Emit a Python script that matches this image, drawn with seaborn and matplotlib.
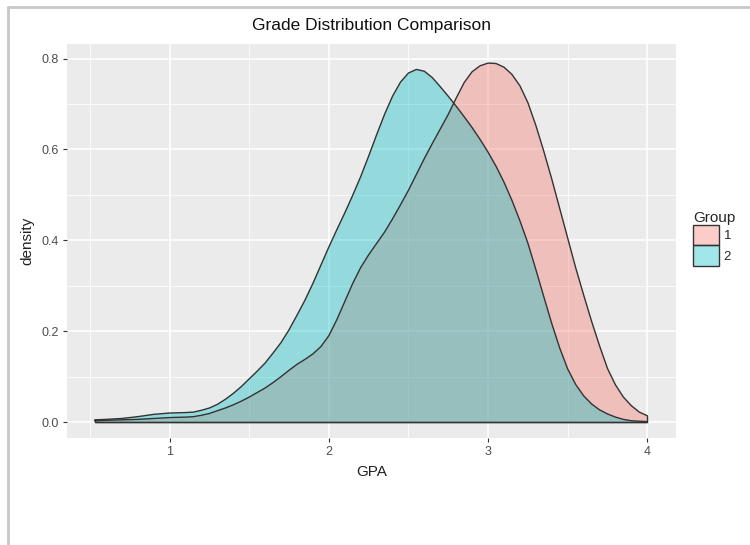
import numpy as np
import pandas as pd
import matplotlib
matplotlib.use("Agg")
import matplotlib.pyplot as plt
import seaborn as sns
from matplotlib.patches import Patch
from matplotlib.lines import Line2D
from matplotlib.colors import to_rgba

# GPA grid and density estimates per group
gpa = [0.53, 0.6, 0.7, 0.8, 0.9, 1.0, 1.1, 1.15, 1.2, 1.25, 1.3, 1.35, 1.4, 1.45,
       1.5, 1.55, 1.6, 1.65, 1.7, 1.75, 1.8, 1.85, 1.9, 1.95,
       2.0, 2.05, 2.1, 2.15, 2.2, 2.25, 2.3, 2.35, 2.4, 2.45,
       2.5, 2.55, 2.6, 2.65, 2.7, 2.75, 2.8, 2.85, 2.9, 2.95,
       3.0, 3.05, 3.1, 3.15, 3.2, 3.25, 3.3, 3.35, 3.4, 3.45,
       3.5, 3.55, 3.6, 3.65, 3.7, 3.75, 3.8, 3.85, 3.9, 3.95, 4.0]

group1 = [0.003, 0.004, 0.005, 0.006, 0.008, 0.010, 0.011, 0.012, 0.015, 0.019, 0.025, 0.031, 0.038, 0.046,
          0.055, 0.065, 0.075, 0.087, 0.100, 0.114, 0.127, 0.138, 0.150, 0.166,
          0.190, 0.225, 0.265, 0.305, 0.340, 0.368, 0.393, 0.418, 0.447, 0.478,
          0.510, 0.545, 0.580, 0.613, 0.645, 0.677, 0.713, 0.747, 0.771, 0.784,
          0.790, 0.789, 0.781, 0.765, 0.740, 0.703, 0.653, 0.596, 0.535, 0.470,
          0.405, 0.340, 0.280, 0.222, 0.168, 0.118, 0.082, 0.055, 0.036, 0.022, 0.014]

group2 = [0.005, 0.006, 0.008, 0.012, 0.017, 0.020, 0.021, 0.022, 0.026, 0.031, 0.039, 0.050, 0.063, 0.078,
          0.095, 0.112, 0.130, 0.152, 0.175, 0.203, 0.235, 0.268, 0.305, 0.345,
          0.385, 0.423, 0.460, 0.499, 0.540, 0.585, 0.632, 0.677, 0.717, 0.748,
          0.768, 0.776, 0.772, 0.758, 0.738, 0.717, 0.695, 0.672, 0.648, 0.622,
          0.594, 0.563, 0.528, 0.488, 0.443, 0.394, 0.336, 0.276, 0.217, 0.163,
          0.117, 0.083, 0.058, 0.040, 0.027, 0.018, 0.011, 0.006, 0.003, 0.002, 0.001]

groups = ["1", "2"]
fills = {"1": "#F8766D", "2": "#00BFC4"}
fill_alpha = 0.37

df = pd.concat([
    pd.DataFrame({"GPA": gpa, "density": group1, "Group": "1"}),
    pd.DataFrame({"GPA": gpa, "density": group2, "Group": "2"}),
], ignore_index=True)

sns.set_theme(style="darkgrid", rc={
    "axes.facecolor": "#EBEBEB",
    "grid.color": "white",
})
plt.rcParams["font.family"] = ["Liberation Sans", "DejaVu Sans"]

fig = plt.figure(figsize=(7.5, 5.45), dpi=100)
fig.patch.set_facecolor("white")
ax = fig.add_axes([0.0893, 0.1963, 0.8120, 0.7230])

edge = "#333333"
for g in groups:
    sub = df[df["Group"] == g]
    ax.fill_between(sub["GPA"], sub["density"], 0, facecolor=fills[g], alpha=fill_alpha,
                    edgecolor="none", zorder=2)
    # baseline and end segments of the density outline
    xs = sub["GPA"].to_numpy()
    ys = sub["density"].to_numpy()
    ax.plot([xs[-1], xs[-1], xs[0], xs[0]], [ys[-1], 0, 0, ys[0]],
            color=edge, lw=1.0, zorder=3, solid_joinstyle="miter")

sns.lineplot(data=df, x="GPA", y="density", hue="Group",
             palette={g: edge for g in groups}, estimator=None, sort=False,
             lw=1.0, legend=False, ax=ax, zorder=3)

ax.set_xlim(0.356, 4.18)
ax.set_ylim(-0.035, 0.832)
ax.set_xticks([1, 2, 3, 4])
ax.set_xticklabels(["1", "2", "3", "4"])
ax.set_yticks([0.0, 0.2, 0.4, 0.6, 0.8])
ax.set_yticklabels(["0.0", "0.2", "0.4", "0.6", "0.8"])
ax.set_xticks([0.5, 1.5, 2.5, 3.5], minor=True)
ax.set_yticks([0.1, 0.3, 0.5, 0.7], minor=True)
ax.grid(which="major", color="white", lw=1.1)
ax.grid(which="minor", color="white", lw=0.55)
ax.set_axisbelow(True)
for s in ax.spines.values():
    s.set_visible(False)
ax.tick_params(which="major", length=3, width=0.8, color="#333333",
               labelsize=9, labelcolor="#4D4D4D", pad=3, bottom=True, left=True)
ax.tick_params(which="minor", length=0)

ax.set_xlabel("GPA", fontsize=11, color="#222222", labelpad=5)
ax.set_ylabel("density", fontsize=11, color="#222222", labelpad=5)
ax.set_title("Grade Distribution Comparison", fontsize=12.5, color="#111111", pad=10)

handles = [Patch(facecolor=to_rgba(fills[g], fill_alpha), edgecolor=edge, lw=1.0) for g in groups]
fig.legend(handles, groups, title="Group", loc="upper left",
           bbox_to_anchor=(0.912, 0.63), frameon=False, fontsize=9.5,
           title_fontsize=11, handlelength=1.95, handleheight=2.0,
           handletextpad=0.35, labelspacing=0.0, borderpad=0.2,
           alignment="left")

# screenshot frame
fig.add_artist(Line2D([0.011, 0.011], [0, 0.987], color="#C8C8C8", lw=2))
fig.add_artist(Line2D([0.011, 1.0], [0.987, 0.987], color="#C8C8C8", lw=2))

fig.savefig("out.png", dpi=100, facecolor="white")
